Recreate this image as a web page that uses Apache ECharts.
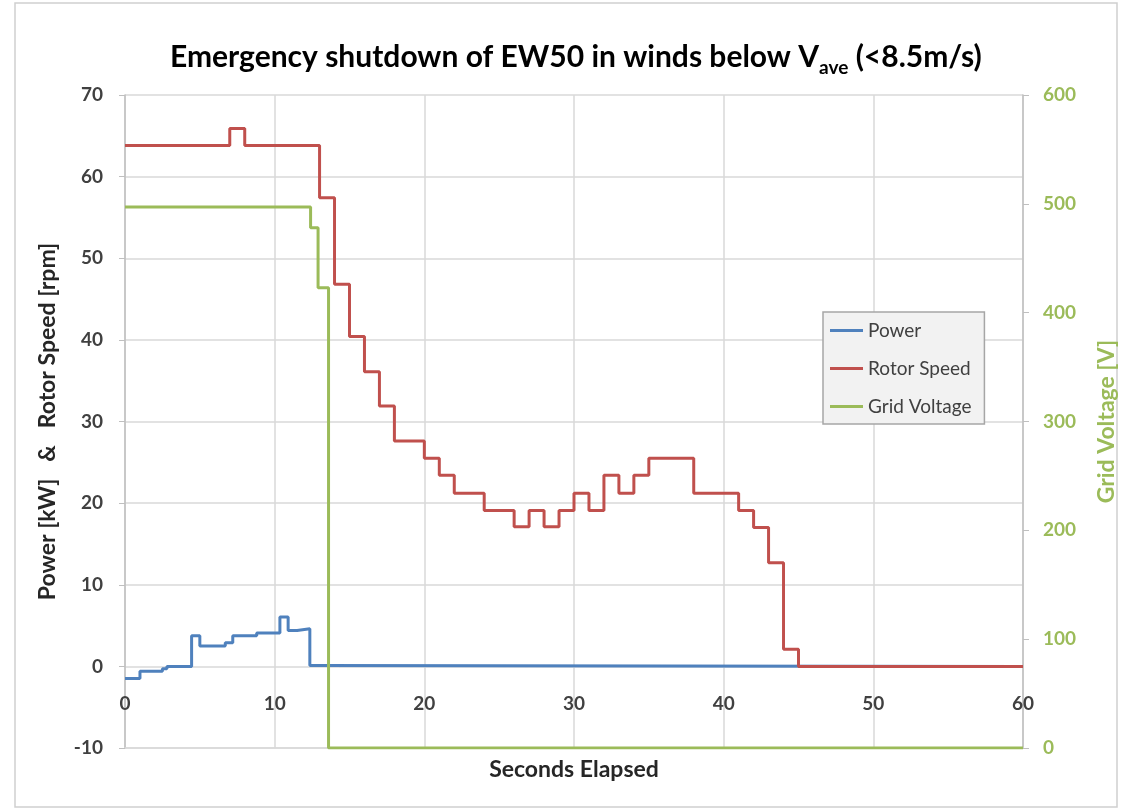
<!DOCTYPE html>
<html>
<head>
<meta charset="utf-8">
<script src="https://cdn.jsdelivr.net/npm/echarts@6/dist/echarts.min.js"></script>
<style>
  html, body { margin: 0; padding: 0; background: #fff; }
  #main { width: 1121px; height: 809px; }
</style>
</head>
<body>
<div id="main"></div>
<script>
// values (seconds -> value after the step)
var powerTime = [0, 1.0, 2.5, 2.8, 4.45, 5.0, 6.7, 7.2, 8.8, 10.35, 10.9, 11.5, 12.35, 13, 60];
var powerKW   = [-1.5, -0.6, -0.3, 0, 3.75, 2.5, 2.9, 3.75, 4.1, 6.05, 4.4, 4.6, 0.1, 0, 0];

var rotorTime = [0, 7, 8, 13, 14, 15, 16, 17, 18, 20, 21, 22, 24, 26, 27, 28, 29, 30, 31, 32, 33, 34, 35, 38, 41, 42, 43, 44, 45, 60];
var rotorRpm  = [63.8, 65.9, 63.8, 57.4, 46.8, 40.4, 36.1, 31.9, 27.6, 25.5, 23.4, 21.2, 19.1, 17.1, 19.1, 17.1, 19.1, 21.2, 19.1, 23.4, 21.2, 23.4, 25.5, 21.2, 19.1, 17.0, 12.7, 2.1, 0, 0];

var voltTime = [0, 12.4, 12.9, 13.6, 60];
var gridV    = [497, 478, 423, 0, 0];

function pairs(xs, ys) {
    return xs.map(function (x, i) { return [x, ys[i]]; });
}

var FONT = 'Lato';
var GRID_COLOR = '#d9d9d9';
var chartDom = document.getElementById('main');
var myChart = echarts.init(chartDom);

var option = {
    animation: false,
    backgroundColor: '#fff',
    title: {
        text: '{a|Emergency shutdown of EW50 in winds below V}{sub|ave}{a| (<8.5m/s)}',
        left: 165,
        top: 32,
        textStyle: {
            rich: {
                a: { fontFamily: FONT, fontWeight: 'bold', fontSize: 30, color: '#000', lineHeight: 40 },
                sub: { fontFamily: FONT, fontWeight: 'bold', fontSize: 19, color: '#000', lineHeight: 19, padding: [22, 0, 0, 0] }
            }
        }
    },
    grid: { left: 125, right: 98, top: 95, bottom: 61, outerBoundsMode: 'none' },
    legend: {
        orient: 'vertical',
        left: 823,
        top: 312,
        data: ['Power', 'Rotor Speed', 'Grid Voltage'],
        icon: 'rect',
        itemWidth: 33,
        itemHeight: 3,
        itemGap: 19,
        padding: [9, 13, 8, 7],
        backgroundColor: '#f2f2f2',
        borderColor: '#a6a6a6',
        borderWidth: 1.5,
        borderRadius: 0,
        textStyle: { fontFamily: FONT, fontSize: 19, color: '#404040' }
    },
    xAxis: {
        type: 'value',
        min: 0,
        max: 60,
        interval: 10,
        name: 'Seconds Elapsed',
        nameLocation: 'middle',
        nameGap: 10,
        nameTextStyle: { fontFamily: FONT, fontWeight: 'bold', fontSize: 23, color: '#262626' },
        axisLine: { show: true, onZero: false, lineStyle: { color: GRID_COLOR, width: 1.5 } },
        axisTick: { show: false },
        // labels sit just under the zero line, as in the original
        axisLabel: { margin: -54, fontFamily: FONT, fontWeight: 'bold', fontSize: 19, color: '#404040' },
        splitLine: { show: true, lineStyle: { color: GRID_COLOR, width: 1.5 } }
    },
    yAxis: [
        {
            type: 'value',
            min: -10,
            max: 70,
            interval: 10,
            position: 'left',
            name: 'Power [kW]   &   Rotor Speed [rpm]',
            nameLocation: 'middle',
            nameGap: 66,
            nameTextStyle: { fontFamily: FONT, fontWeight: 'bold', fontSize: 23, color: '#262626' },
            axisLine: { show: true, lineStyle: { color: '#bfbfbf', width: 1.5 } },
            axisTick: { show: true, length: 6, lineStyle: { color: '#bfbfbf' } },
            axisLabel: { margin: 22, fontFamily: FONT, fontWeight: 'bold', fontSize: 19, color: '#404040' },
            splitLine: { show: true, lineStyle: { color: GRID_COLOR, width: 1.5 } }
        },
        {
            type: 'value',
            min: 0,
            max: 600,
            interval: 100,
            position: 'right',
            name: 'Grid Voltage [V]',
            nameLocation: 'middle',
            nameGap: 72,
            nameTextStyle: { fontFamily: FONT, fontWeight: 'bold', fontSize: 23, color: '#9bbb59' },
            axisLine: { show: true, lineStyle: { color: '#bfbfbf', width: 1.5 } },
            axisTick: { show: true, length: 6, lineStyle: { color: '#bfbfbf' } },
            axisLabel: { margin: 20, fontFamily: FONT, fontWeight: 'bold', fontSize: 19, color: '#9bbb59' },
            splitLine: { show: false }
        }
    ],
    series: [
        {
            name: 'Power',
            type: 'line',
            step: 'end',
            yAxisIndex: 0,
            symbol: 'none',
            color: '#4f81bd',
            lineStyle: { width: 3, color: '#4f81bd' },
            data: pairs(powerTime, powerKW)
        },
        {
            name: 'Rotor Speed',
            type: 'line',
            step: 'end',
            yAxisIndex: 0,
            symbol: 'none',
            color: '#c0504d',
            lineStyle: { width: 3, color: '#c0504d' },
            data: pairs(rotorTime, rotorRpm)
        },
        {
            name: 'Grid Voltage',
            type: 'line',
            step: 'end',
            yAxisIndex: 1,
            symbol: 'none',
            color: '#9bbb59',
            lineStyle: { width: 3, color: '#9bbb59' },
            data: pairs(voltTime, gridV)
        }
    ],
    graphic: [
        {
            type: 'rect',
            shape: { x: 15, y: 3, width: 1102, height: 804 },
            style: { fill: 'none', stroke: '#d0d0d0', lineWidth: 1.5 },
            silent: true,
            z: -10
        }
    ]
};

option && myChart.setOption(option);
</script>
</body>
</html>
